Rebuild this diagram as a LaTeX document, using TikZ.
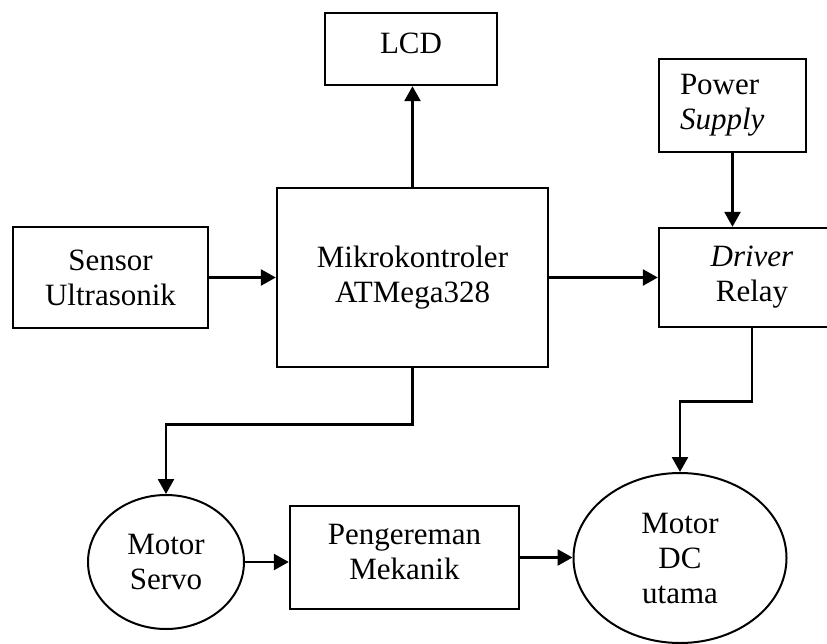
\documentclass[tikz,border=0pt]{standalone}
\usepackage{fontspec}
\setmainfont{Liberation Serif}
\usetikzlibrary{shapes.geometric,arrows.meta}

\tikzset{
  blok/.style={draw, line width=2.4pt, rectangle, inner sep=0pt, align=center,
    font=\fontsize{31}{35}\selectfont},
  oval/.style={draw, line width=2pt, ellipse, inner sep=0pt, align=center,
    font=\fontsize{31}{35}\selectfont},
  arr/.style={line width=2.6pt, -{Triangle[length=15pt,width=16pt]}},
  wire/.style={line width=2.6pt}
}

\begin{document}
\begin{tikzpicture}[x=1pt, y=-1pt]
  \clip (0,0) rectangle (827,643);

  % blocks
  \node[blok, minimum width=172pt, minimum height=72pt, text depth=12pt] (lcd) at (411,49) {LCD};
  \node[blok, minimum width=195pt, minimum height=101pt] (sensor) at (110.5,277.5) {Sensor\\Ultrasonik};
  \node[blok, minimum width=271pt, minimum height=179pt] (micro) at (412.5,277.5) {Mikrokontroler\\ATMega328};
  \node[blok, minimum width=147pt, minimum height=93pt, text width=105pt, inner xsep=21pt, align=left] (power) at (732.5,105.5) {Power\\\textit{Supply}};
  \node[blok, minimum width=186pt, minimum height=99pt] (driver) at (752,277.5) {\textit{Driver}\\Relay};
  \node[blok, minimum width=229pt, minimum height=103pt, text depth=12pt] (rem) at (404.5,557.5) {Pengereman\\Mekanik};

  % motors
  \node[oval, minimum width=156pt, minimum height=134pt] (servo) at (166,562) {Motor\\Servo};
  \node[oval, minimum width=213pt, minimum height=170pt] (dc) at (680,558) {Motor\\DC\\utama};

  % connections
  \draw[arr] (sensor.east) -- (sensor.east -| micro.west);
  \draw[arr] (micro.north) -- (micro.north |- lcd.south);
  \draw[arr] (micro.east) -- (micro.east -| driver.west);
  \draw[arr] (power.south) -- (power.south |- driver.north);
  \draw[arr] (micro.south) -- ++(0,56) -| (servo.north);
  \draw[arr] (driver.south) -- ++(0,73) -| (dc.north);
  \draw[arr] (servo.east) -- (servo.east -| rem.west);
  \draw[arr] (rem.east) -- (rem.east -| dc.west);
\end{tikzpicture}
\end{document}
